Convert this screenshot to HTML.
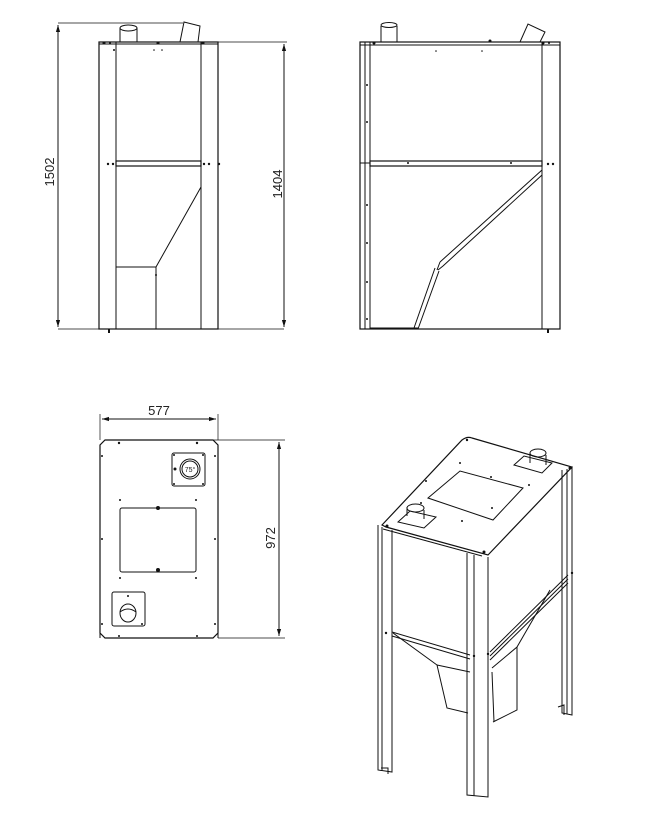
<!DOCTYPE html>
<html><head><meta charset="utf-8"><style>html,body{margin:0;padding:0;background:#fff}svg{display:block}text{font-family:"Liberation Sans",sans-serif;font-size:13px;fill:#222;stroke:none}</style></head><body>
<svg width="659" height="832" viewBox="0 0 659 832" xmlns="http://www.w3.org/2000/svg" fill="none" stroke="#111" stroke-width="1">
<defs><marker id="a" viewBox="0 0 10 10" refX="10" refY="5" markerWidth="7" markerHeight="7" orient="auto-start-reverse"><path d="M0,2 L10,5 L0,8 z" fill="#111" stroke="none"/></marker></defs>
<!-- View 1 -->
<g>
<line x1="58" y1="23" x2="183" y2="23" stroke-width="0.7"/>
<line x1="58" y1="329" x2="284" y2="329" stroke-width="0.7"/>
<line x1="218" y1="42" x2="287" y2="42" stroke-width="0.7"/>
<line x1="58" y1="25" x2="58" y2="327" marker-start="url(#a)" marker-end="url(#a)"/>
<line x1="284" y1="44" x2="284" y2="327" marker-start="url(#a)" marker-end="url(#a)"/>
<text transform="translate(54,172) rotate(-90)" text-anchor="middle">1502</text>
<text transform="translate(282,184) rotate(-90)" text-anchor="middle">1404</text>
<rect x="99" y="42" width="119" height="287" stroke-width="1.2"/>
<line x1="116" y1="42" x2="116" y2="329"/><line x1="201" y1="42" x2="201" y2="329"/>
<line x1="99" y1="44" x2="218" y2="44"/>
<rect x="116" y="161" width="85" height="5" stroke-width="1.2"/>
<path d="M120,42 V28 M137,42 V28"/><ellipse cx="128.5" cy="28" rx="8.5" ry="3"/>
<path d="M180,42 L184,22 L200,26 L198,42"/>
<path d="M201,187 L156,267 L116,267 M156,267 V329"/>
<g fill="#111" stroke="none"><circle cx="104" cy="43" r="1.5"/><circle cx="110" cy="43" r="1"/><circle cx="158" cy="43" r="1.5"/><circle cx="203" cy="43" r="1.5"/><circle cx="114" cy="50" r="1"/><circle cx="154" cy="50" r="0.8"/><circle cx="162" cy="50" r="0.8"/><circle cx="108" cy="164" r="1.2"/><circle cx="113" cy="164" r="1.2"/><circle cx="204" cy="164" r="1.2"/><circle cx="209" cy="164" r="1.2"/><circle cx="219" cy="164" r="1.2"/><circle cx="156" cy="275" r="1"/><rect x="108" y="329" width="2" height="4"/></g>
</g>
<!-- View 2 -->
<g>
<rect x="360" y="42" width="200" height="287" stroke-width="1.2"/>
<line x1="365" y1="42" x2="365" y2="329"/><line x1="370" y1="42" x2="370" y2="329"/>
<line x1="542" y1="42" x2="542" y2="329"/>
<line x1="360" y1="45" x2="560" y2="45"/>
<rect x="370" y="161" width="172" height="5" stroke-width="1.2"/>
<line x1="360" y1="163" x2="370" y2="163"/>
<path d="M381,42 V26 M397,42 V26"/><ellipse cx="389" cy="25" rx="8" ry="2.5"/>
<path d="M520,42 L528,24 L545,32 L540,42"/>
<path d="M542,170 L440,262 M542,175 L443,266 M440,262 L437,270 M443,266 L438,270 M435,268 L414,328 M439,271 L418,329"/>
<line x1="370" y1="328" x2="418" y2="328"/>
<g fill="#111" stroke="none"><circle cx="374" cy="43" r="1.5"/><circle cx="490" cy="41" r="1.5"/><circle cx="543" cy="43" r="1.5"/><circle cx="549" cy="43" r="1"/><circle cx="436" cy="51" r="0.8"/><circle cx="482" cy="51" r="0.8"/><circle cx="367" cy="85" r="1"/><circle cx="367" cy="122" r="1"/><circle cx="367" cy="205" r="1"/><circle cx="367" cy="243" r="1"/><circle cx="367" cy="282" r="1"/><circle cx="367" cy="319" r="1"/><circle cx="408" cy="163" r="1"/><circle cx="511" cy="163" r="1"/><circle cx="548" cy="164" r="1.2"/><circle cx="553" cy="164" r="1.2"/><rect x="547" y="329" width="2" height="4"/></g>
</g>
<!-- View 3 -->
<g>
<line x1="100" y1="440" x2="100" y2="414" stroke-width="0.7"/><line x1="218" y1="440" x2="218" y2="414" stroke-width="0.7"/>
<line x1="102" y1="419" x2="216" y2="419" marker-start="url(#a)" marker-end="url(#a)"/>
<text x="159" y="415" text-anchor="middle">577</text>
<line x1="202" y1="440" x2="285" y2="440" stroke-width="0.7"/><line x1="218" y1="638" x2="285" y2="638" stroke-width="0.7"/>
<line x1="279" y1="442" x2="279" y2="636" marker-start="url(#a)" marker-end="url(#a)"/>
<text transform="translate(275,538) rotate(-90)" text-anchor="middle">972</text>
<path d="M105,440 H213 L218,445 V633 L213,638 H105 L100,633 V445 Z" stroke-width="1.2"/>
<line x1="100" y1="623" x2="100" y2="638"/><line x1="218" y1="623" x2="218" y2="638"/>
<rect x="172" y="453" width="33" height="33" rx="2"/>
<circle cx="190" cy="469" r="10"/><circle cx="190" cy="469" r="8"/><text x="190" y="472" style="font-size:7px" text-anchor="middle">75°</text>
<rect x="120" y="508" width="76" height="64" rx="2"/>
<rect x="112" y="592" width="33" height="34" rx="2"/>
<ellipse cx="128" cy="613" rx="8" ry="9"/><path d="M120,612 Q128,606 136,612"/>
<g fill="#111" stroke="none"><circle cx="119" cy="443" r="1.2"/><circle cx="197" cy="443" r="1.2"/><circle cx="102" cy="456" r="1"/><circle cx="215" cy="456" r="1"/><circle cx="174" cy="455" r="1"/><circle cx="203" cy="455" r="1"/><circle cx="174" cy="484" r="1"/><circle cx="203" cy="484" r="1"/><circle cx="175" cy="469" r="1.5"/><circle cx="120" cy="500" r="1"/><circle cx="196" cy="500" r="1"/><circle cx="158" cy="508" r="2"/><circle cx="158" cy="570" r="2"/><circle cx="102" cy="539" r="1"/><circle cx="215" cy="539" r="1"/><circle cx="120" cy="578" r="1"/><circle cx="196" cy="578" r="1"/><circle cx="102" cy="624" r="1"/><circle cx="215" cy="624" r="1"/><circle cx="119" cy="636" r="1"/><circle cx="197" cy="636" r="1"/><circle cx="142" cy="624" r="1"/><circle cx="128" cy="596" r="1"/></g>
</g>
<!-- View 4 -->
<g stroke-width="1">
<path d="M382,525 L462,440 Q467,436 472,438 L572,467 L488,555 L386,527 Z" stroke-width="1.2"/>
<path d="M383,529 L482,556"/>
<path d="M428,498 L460,471 L523,488 L493,520 Z"/>
<path d="M398,522 L410,511 L436,517 L424,528 Z"/><path d="M407,516 V507 M424,519 V510"/><ellipse cx="415.5" cy="508" rx="8.5" ry="4"/>
<path d="M514,465 L524,456 L552,463 L542,473 Z"/><path d="M530,463 V453 M546,465 V455"/><ellipse cx="538" cy="453" rx="8" ry="4"/>
<path d="M378,525 V770 L392,772 V530 M382,527 V771"/>
<path d="M467,553 V795 L488,797 V557 M474,555 V796"/>
<path d="M562,470 V713 L572,715 V467 M567,469 V714"/>
<path d="M392,632 L470,655 M392,636 L470,659"/>
<path d="M490,652 L568,575 M490,656 L568,579 M490,660 L568,583"/>
<path d="M393,633 L437,665 L447,708 L468,713 M437,665 L470,672"/>
<path d="M492,668 L517,647 L550,590 M517,647 V710 L493,722 M492,672 L494,722"/>
<path d="M381,768 L388,768 L388,774"/>
<path d="M558,707 L564,705 V715"/>
<g fill="#111" stroke="none"><circle cx="467" cy="440" r="1.2"/><circle cx="426" cy="481" r="1"/><circle cx="460" cy="463" r="1"/><circle cx="491" cy="477" r="1"/><circle cx="529" cy="485" r="1"/><circle cx="492" cy="508" r="1"/><circle cx="462" cy="521" r="1"/><circle cx="421" cy="503" r="1"/><circle cx="387" cy="526" r="1.5"/><circle cx="484" cy="552" r="1.5"/><circle cx="570" cy="468" r="1.5"/><circle cx="386" cy="633" r="1.2"/><circle cx="474" cy="656" r="1.2"/><circle cx="488" cy="654" r="1.2"/><circle cx="572" cy="573" r="1.2"/></g>
</g>
</svg>
</body></html>
